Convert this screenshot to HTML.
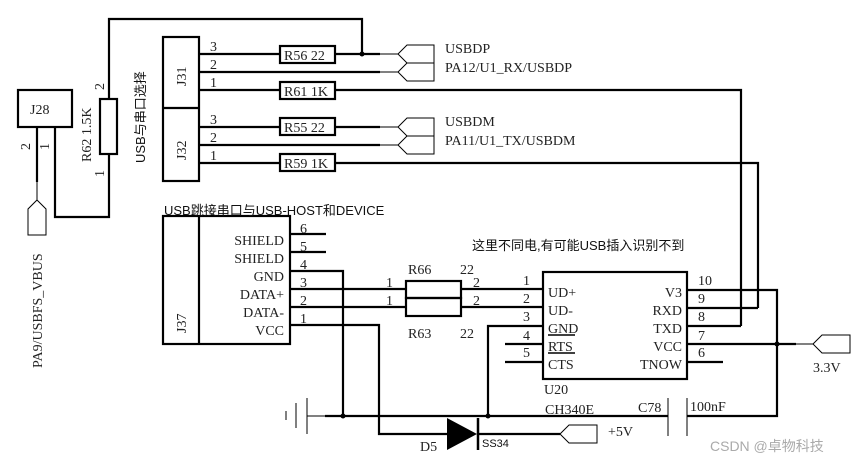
<!DOCTYPE html>
<html><head><meta charset="utf-8"><style>
body{margin:0;background:#fff}
svg{display:block}
.s{font-family:"Liberation Serif","Noto Serif CJK SC",serif;font-size:14px;fill:#222}
.c{font-family:"Liberation Sans","Noto Sans CJK SC",sans-serif;font-size:13px;fill:#111}
</style></head><body>
<svg width="862" height="465" viewBox="0 0 862 465">
<g stroke="#000" stroke-width="2.2" fill="none">
<polyline points="109,99 109,19 362,19 362,54"/>
<rect x="18" y="90" width="54" height="37"/>
<line x1="37" y1="127" x2="37" y2="182"/>
<polyline points="55,127 55,217 109,217 109,154"/>
<rect x="100" y="99" width="17" height="55"/>
<rect x="163" y="37" width="36" height="144"/>
<line x1="163" y1="108" x2="199" y2="108"/>
<line x1="199" y1="54" x2="380" y2="54"/>
<line x1="199" y1="72" x2="380" y2="72"/>
<polyline points="199,90 741,90 741,326"/>
<line x1="199" y1="127" x2="380" y2="127"/>
<line x1="199" y1="145" x2="380" y2="145"/>
<polyline points="199,163 758,163 758,308"/>
<rect x="163" y="216" width="127" height="128"/>
<line x1="199" y1="216" x2="199" y2="344"/>
<line x1="290" y1="234" x2="326" y2="234"/>
<line x1="290" y1="252" x2="326" y2="252"/>
<polyline points="290,271 343,271 343,416"/>
<line x1="290" y1="289" x2="406" y2="289"/>
<line x1="290" y1="307" x2="406" y2="307"/>
<polyline points="290,325 379,325 379,434 447,434"/>
<line x1="461" y1="289" x2="543" y2="289"/>
<line x1="461" y1="307" x2="543" y2="307"/>
<rect x="406" y="281" width="55" height="17"/>
<rect x="406" y="298" width="55" height="18"/>
<rect x="543" y="272" width="144" height="107"/>
<polyline points="543,326 488,326 488,416"/>
<line x1="505" y1="344" x2="543" y2="344"/>
<line x1="505" y1="362" x2="543" y2="362"/>
<polyline points="687,290 777,290 777,416 687,416"/>
<line x1="687" y1="308" x2="758" y2="308"/>
<line x1="687" y1="326" x2="741" y2="326"/>
<line x1="687" y1="344" x2="796" y2="344"/>
<line x1="687" y1="362" x2="723" y2="362"/>
<line x1="325" y1="416" x2="668" y2="416"/>
<line x1="477" y1="434" x2="560" y2="434"/>
</g>
<g stroke="#000" stroke-width="2.2" fill="#fff">
<rect x="280" y="46" width="55" height="17"/>
<rect x="280" y="82" width="55" height="17"/>
<rect x="280" y="118" width="55" height="17"/>
<rect x="280" y="154" width="55" height="17"/>
</g>
<g class="s" font-size="14">
<text x="284" y="60">R56 22</text><text x="284" y="96">R61 1K</text>
<text x="284" y="132">R55 22</text><text x="284" y="168">R59 1K</text>
</g>
<g stroke="#000" stroke-width="1" fill="#fff">
<line x1="380" y1="54" x2="398" y2="54"/><line x1="380" y1="72" x2="398" y2="72"/>
<line x1="380" y1="127" x2="398" y2="127"/><line x1="380" y1="145" x2="398" y2="145"/>
<polygon points="398,54 407,45 434,45 434,63 407,63"/>
<polygon points="398,72 407,63 434,63 434,81 407,81"/>
<polygon points="398,127 407,118 434,118 434,136 407,136"/>
<polygon points="398,145 407,136 434,136 434,154 407,154"/>
<polygon points="37,200 46,209 46,235 28,235 28,209"/>
<line x1="37" y1="182" x2="37" y2="200"/>
<line x1="796" y1="344" x2="813" y2="344"/>
<polygon points="813,344 822,335 850,335 850,353 822,353"/>
<line x1="560" y1="434" x2="569" y2="434"/>
<polygon points="560,434 569,425 597,425 597,443 569,443"/>
<line x1="307" y1="416" x2="325" y2="416"/>
<line x1="286" y1="411" x2="286" y2="420"/>
<line x1="296" y1="403" x2="296" y2="428"/>
<line x1="307" y1="398" x2="307" y2="434"/>
<line x1="668" y1="398" x2="668" y2="436"/>
<line x1="687" y1="398" x2="687" y2="436"/>
</g>
<polygon points="447,418 447,450 477,434" fill="#000"/>
<line x1="478" y1="418" x2="478" y2="450" stroke="#000" stroke-width="2.5"/>
<g fill="#000"><circle cx="362" cy="54" r="2.5"/><circle cx="343" cy="416" r="2.5"/><circle cx="488" cy="416" r="2.5"/><circle cx="777" cy="344" r="2.5"/></g>
<line x1="548" y1="335" x2="575" y2="335" stroke="#000" stroke-width="1.5"/>
<line x1="548" y1="353" x2="575" y2="353" stroke="#000" stroke-width="1.5"/>
<g class="s">
<text x="30" y="114">J28</text>
<text x="445" y="53">USBDP</text><text x="445" y="72">PA12/U1_RX/USBDP</text>
<text x="445" y="126">USBDM</text><text x="445" y="145">PA11/U1_TX/USBDM</text>
<text x="210" y="51">3</text><text x="210" y="69">2</text><text x="210" y="87">1</text>
<text x="210" y="124">3</text><text x="210" y="142">2</text><text x="210" y="160">1</text>
<text x="284" y="245" text-anchor="end">SHIELD</text>
<text x="284" y="263" text-anchor="end">SHIELD</text>
<text x="284" y="281" text-anchor="end">GND</text>
<text x="284" y="299" text-anchor="end">DATA+</text>
<text x="284" y="317" text-anchor="end">DATA-</text>
<text x="284" y="335" text-anchor="end">VCC</text>
<text x="300" y="233">6</text><text x="300" y="251">5</text><text x="300" y="269">4</text>
<text x="300" y="287">3</text><text x="300" y="305">2</text><text x="300" y="323">1</text>
<text x="408" y="274">R66</text><text x="460" y="274">22</text>
<text x="408" y="338">R63</text><text x="460" y="338">22</text>
<text x="386" y="287">1</text><text x="386" y="305">1</text>
<text x="473" y="287">2</text><text x="473" y="305">2</text>
<text x="523" y="285">1</text><text x="523" y="303">2</text><text x="523" y="321">3</text>
<text x="523" y="340">4</text><text x="523" y="357">5</text>
<text x="548" y="297">UD+</text><text x="548" y="315">UD-</text><text x="548" y="333">GND</text>
<text x="548" y="351">RTS</text><text x="548" y="369">CTS</text>
<text x="682" y="297" text-anchor="end">V3</text><text x="682" y="315" text-anchor="end">RXD</text>
<text x="682" y="333" text-anchor="end">TXD</text><text x="682" y="351" text-anchor="end">VCC</text>
<text x="682" y="369" text-anchor="end">TNOW</text>
<text x="698" y="285">10</text><text x="698" y="303">9</text><text x="698" y="321">8</text>
<text x="698" y="340">7</text><text x="698" y="357">6</text>
<text x="544" y="394">U20</text><text x="545" y="414">CH340E</text>
<text x="638" y="412">C78</text><text x="690" y="411">100nF</text>
<text x="608" y="436">+5V</text><text x="813" y="372">3.3V</text>
<text x="420" y="451">D5</text>
<text x="104" y="90" transform="rotate(-90 104 90)">2</text>
<text x="104" y="177" transform="rotate(-90 104 177)">1</text>
<text x="30" y="150" transform="rotate(-90 30 150)">2</text>
<text x="49" y="150" transform="rotate(-90 49 150)">1</text>
<text x="91" y="162" transform="rotate(-90 91 162)">R62 1.5K</text>
<text x="186" y="86" transform="rotate(-90 186 86)">J31</text>
<text x="186" y="160" transform="rotate(-90 186 160)">J32</text>
<text x="186" y="333" transform="rotate(-90 186 333)">J37</text>
<text x="42" y="368" transform="rotate(-90 42 368)">PA9/USBFS_VBUS</text>
</g>
<g class="c">
<text x="164" y="215">USB跳接串口与USB-HOST和DEVICE</text>
<text x="472" y="250">这里不同电,有可能USB插入识别不到</text>
<text x="145" y="163" transform="rotate(-90 145 163)">USB与串口选择</text>
<text x="482" y="447" font-size="11">SS34</text>
<text x="710" y="451" style="fill:#aaa;font-size:14px">CSDN @卓物科技</text>
</g>
</svg>
</body></html>
